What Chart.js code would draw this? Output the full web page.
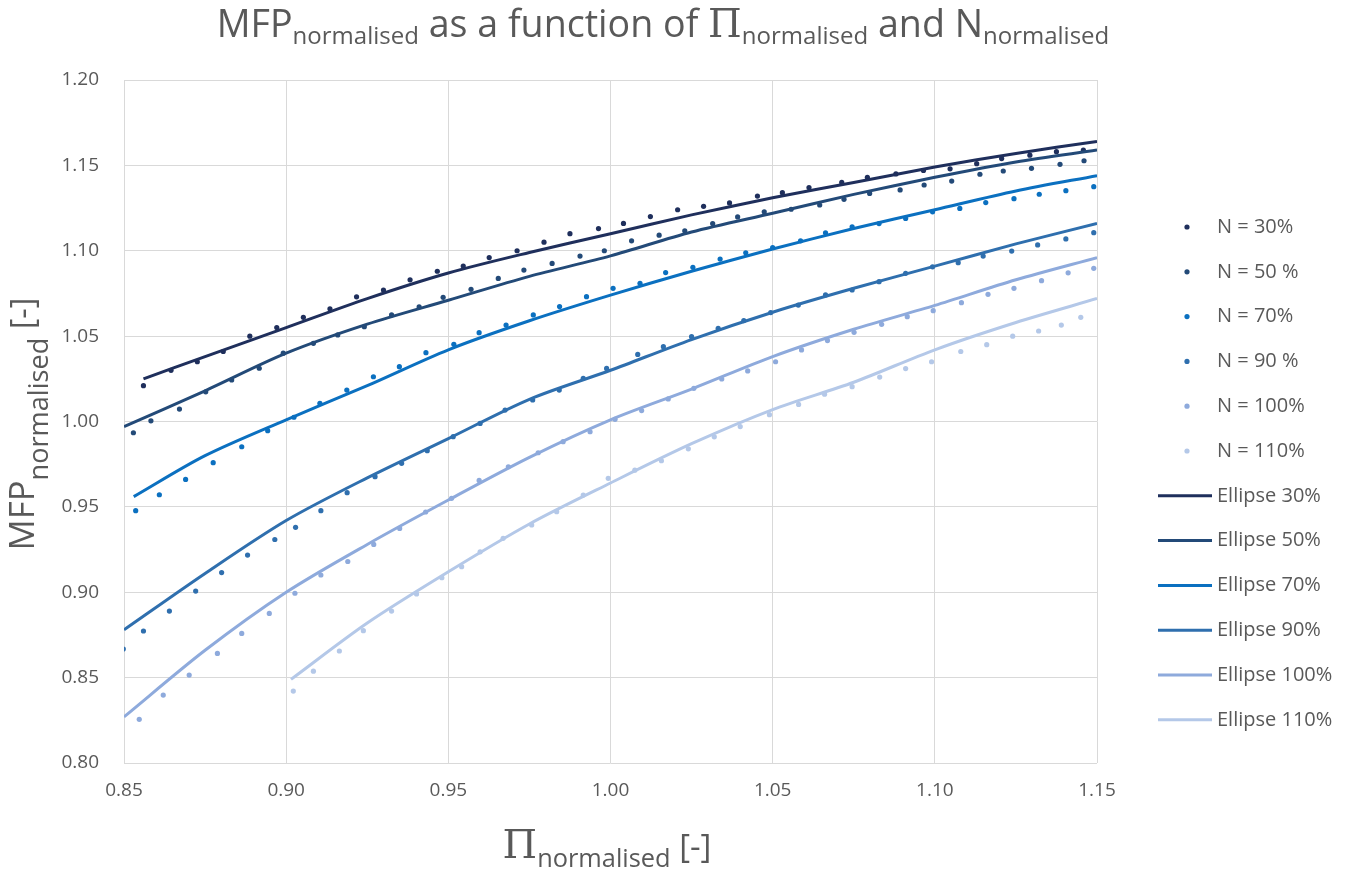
<!DOCTYPE html>
<html>
<head>
<meta charset="utf-8">
<script src="https://cdn.jsdelivr.net/npm/chart.js@4.4.1/dist/chart.umd.min.js"></script>
<style>
  html, body { margin: 0; padding: 0; background: #fff; }
  #wrap { width: 1371px; height: 869px; }
</style>
</head>
<body>
<div id="wrap"><canvas id="mfpChart" width="1371" height="869"></canvas></div>
<script>
// axis ticks
const xTicks = [0.85, 0.90, 0.95, 1.00, 1.05, 1.10, 1.15];
const yTicks = [0.80, 0.85, 0.90, 0.95, 1.00, 1.05, 1.10, 1.15, 1.20];

// measured points (dots)
const n30X = [0.856, 0.8645, 0.8726, 0.8806, 0.8888, 0.8971, 0.9053, 0.9135, 0.9217, 0.930, 0.9382, 0.9466, 0.9546, 0.9626, 0.9712, 0.9795, 0.9875, 0.9963, 1.004, 1.0123, 1.0207, 1.0287, 1.0367, 1.0453, 1.053, 1.0612, 1.0713, 1.0792, 1.088, 1.0965, 1.1047, 1.1129, 1.1206, 1.1293, 1.1375, 1.1458];
const n30Y = [1.021, 1.030, 1.035, 1.041, 1.050, 1.055, 1.061, 1.066, 1.073, 1.077, 1.083, 1.088, 1.091, 1.096, 1.100, 1.105, 1.110, 1.113, 1.116, 1.120, 1.124, 1.126, 1.128, 1.132, 1.134, 1.137, 1.140, 1.143, 1.145, 1.147, 1.148, 1.151, 1.154, 1.156, 1.158, 1.159];

const n50X = [0.8529, 0.8583, 0.8671, 0.8752, 0.8832, 0.8917, 0.8991, 0.9084, 0.9159, 0.9241, 0.9325, 0.941, 0.9484, 0.957, 0.9654, 0.9733, 0.982, 0.9906, 0.9981, 1.0065, 1.015, 1.0229, 1.0315, 1.0392, 1.0474, 1.0557, 1.0645, 1.072, 1.0799, 1.0893, 1.0967, 1.1052, 1.1139, 1.1211, 1.1298, 1.1386, 1.146];
const n50Y = [0.9934, 1.0004, 1.0073, 1.0174, 1.0243, 1.0312, 1.040, 1.0458, 1.0507, 1.0555, 1.0624, 1.0672, 1.0727, 1.0774, 1.0838, 1.0887, 1.0926, 1.0969, 1.100, 1.1058, 1.1091, 1.1117, 1.1159, 1.1198, 1.1228, 1.1243, 1.1268, 1.1301, 1.1336, 1.1356, 1.1385, 1.1408, 1.1448, 1.1467, 1.1483, 1.1506, 1.1527];

const n70X = [0.8536, 0.8609, 0.869, 0.8775, 0.8863, 0.8943, 0.9024, 0.9104, 0.9187, 0.9269, 0.9349, 0.9431, 0.9517, 0.9595, 0.9678, 0.9762, 0.9843, 0.9926, 1.0008, 1.0091, 1.017, 1.0254, 1.0338, 1.0417, 1.05, 1.0586, 1.0663, 1.0745, 1.0828, 1.091, 1.0993, 1.1077, 1.1157, 1.1244, 1.1322, 1.1404, 1.149];
const n70Y = [0.9478, 0.9571, 0.9661, 0.9759, 0.9852, 0.9946, 1.0025, 1.0107, 1.0184, 1.0262, 1.0321, 1.0403, 1.0452, 1.052, 1.0565, 1.0624, 1.0673, 1.0731, 1.078, 1.0809, 1.0872, 1.0903, 1.0951, 1.0988, 1.1019, 1.1058, 1.1105, 1.114, 1.1159, 1.1189, 1.1228, 1.1248, 1.1282, 1.1305, 1.1331, 1.1352, 1.1375];

const n90X = [0.8498, 0.856, 0.864, 0.8721, 0.8801, 0.8881, 0.8965, 0.9029, 0.9107, 0.9188, 0.9274, 0.9356, 0.9435, 0.9515, 0.9598, 0.9675, 0.976, 0.9842, 0.9916, 0.9988, 1.0084, 1.0163, 1.025, 1.0332, 1.0411, 1.0494, 1.0579, 1.0663, 1.0745, 1.0828, 1.091, 1.0993, 1.1072, 1.1149, 1.1237, 1.1317, 1.1404, 1.149];
const n90Y = [0.8667, 0.8773, 0.889, 0.9007, 0.9115, 0.9218, 0.9309, 0.938, 0.9478, 0.9583, 0.9677, 0.9755, 0.9829, 0.9911, 0.9989, 1.0067, 1.0126, 1.0184, 1.0253, 1.0311, 1.0393, 1.0438, 1.0497, 1.0546, 1.0591, 1.0638, 1.0682, 1.0741, 1.077, 1.0819, 1.0868, 1.0906, 1.093, 1.0969, 1.0998, 1.1034, 1.1069, 1.1106];

const n100X = [0.8547, 0.8621, 0.8701, 0.8788, 0.8863, 0.8948, 0.9027, 0.9107, 0.919, 0.927, 0.935, 0.943, 0.951, 0.9595, 0.9685, 0.9777, 0.9854, 0.9937, 1.0014, 1.0096, 1.0178, 1.0257, 1.0343, 1.0423, 1.0509, 1.0589, 1.0669, 1.0751, 1.0836, 1.0915, 1.0995, 1.1082, 1.1164, 1.1244, 1.1329, 1.1411, 1.149];
const n100Y = [0.8256, 0.8398, 0.8515, 0.8642, 0.8759, 0.8876, 0.8994, 0.9101, 0.918, 0.928, 0.9374, 0.947, 0.955, 0.9655, 0.9735, 0.9817, 0.9882, 0.994, 1.0013, 1.0064, 1.0132, 1.0194, 1.0249, 1.0296, 1.035, 1.0419, 1.0474, 1.0522, 1.0569, 1.0614, 1.0649, 1.0696, 1.0745, 1.078, 1.0825, 1.0871, 1.0897];

const n110X = [0.9022, 0.9084, 0.9164, 0.9238, 0.9325, 0.9402, 0.948, 0.9541, 0.9598, 0.9669, 0.9757, 0.9834, 0.9916, 0.9993, 1.0075, 1.0157, 1.024, 1.032, 1.040, 1.049, 1.058, 1.066, 1.0745, 1.083, 1.091, 1.099, 1.108, 1.116, 1.124, 1.132, 1.139, 1.145];
const n110Y = [0.8421, 0.8538, 0.8656, 0.8775, 0.889, 0.899, 0.9085, 0.915, 0.9237, 0.9316, 0.9394, 0.9472, 0.9569, 0.9667, 0.9715, 0.977, 0.984, 0.991, 0.997, 1.004, 1.010, 1.016, 1.0204, 1.026, 1.031, 1.035, 1.041, 1.045, 1.050, 1.053, 1.0565, 1.061];

// ellipse fits (lines)
const e30X = [0.856, 0.875, 0.90, 0.925, 0.95, 0.975, 1.00, 1.025, 1.05, 1.075, 1.10, 1.125, 1.15];
const e30Y = [1.025, 1.038, 1.055, 1.072, 1.087, 1.099, 1.110, 1.121, 1.131, 1.140, 1.149, 1.157, 1.164];
const e50X = [0.85, 0.875, 0.90, 0.925, 0.95, 0.975, 1.00, 1.025, 1.05, 1.075, 1.10, 1.125, 1.15];
const e50Y = [0.997, 1.018, 1.040, 1.057, 1.071, 1.085, 1.097, 1.111, 1.122, 1.133, 1.143, 1.152, 1.159];
const e70X = [0.853, 0.875, 0.90, 0.925, 0.95, 0.975, 1.00, 1.025, 1.05, 1.075, 1.10, 1.125, 1.15];
const e70Y = [0.956, 0.980, 1.001, 1.021, 1.042, 1.059, 1.074, 1.088, 1.101, 1.113, 1.124, 1.135, 1.144];
const e90X = [0.85, 0.875, 0.90, 0.925, 0.95, 0.975, 1.00, 1.025, 1.05, 1.075, 1.10, 1.125, 1.15];
const e90Y = [0.878, 0.911, 0.942, 0.967, 0.990, 1.013, 1.030, 1.048, 1.064, 1.078, 1.091, 1.104, 1.116];
const e100X = [0.85, 0.875, 0.90, 0.925, 0.95, 0.975, 1.00, 1.025, 1.05, 1.075, 1.10, 1.125, 1.15];
const e100Y = [0.827, 0.866, 0.900, 0.928, 0.954, 0.979, 1.001, 1.019, 1.038, 1.054, 1.068, 1.083, 1.096];
const e110X = [0.9015, 0.925, 0.95, 0.975, 1.00, 1.025, 1.05, 1.075, 1.10, 1.125, 1.15];
const e110Y = [0.849, 0.882, 0.912, 0.940, 0.964, 0.987, 1.007, 1.023, 1.042, 1.058, 1.072];

const dotLabels = ['N = 30%', 'N = 50 %', 'N = 70%', 'N = 90 %', 'N = 100%', 'N = 110%'];
const lineLabels = ['Ellipse 30%', 'Ellipse 50%', 'Ellipse 70%', 'Ellipse 90%', 'Ellipse 100%', 'Ellipse 110%'];
const colours = ['#1f2f5c', '#234a78', '#0b70c0', '#2f6fae', '#8eaadc', '#b4c8e8'];

const textColor = '#595959';
const pts = (xs, ys) => xs.map((x, i) => ({ x: x, y: ys[i] }));

const dotData = [pts(n30X, n30Y), pts(n50X, n50Y), pts(n70X, n70Y), pts(n90X, n90Y), pts(n100X, n100Y), pts(n110X, n110Y)];
const lineData = [pts(e30X, e30Y), pts(e50X, e50Y), pts(e70X, e70Y), pts(e90X, e90Y), pts(e100X, e100Y), pts(e110X, e110Y)];

const datasets = [];
lineData.forEach((d, i) => datasets.push({
    label: lineLabels[i], data: d,
    showLine: true, borderColor: colours[i], backgroundColor: colours[i],
    borderWidth: 3, pointRadius: 0, tension: 0.3, order: 0
}));
dotData.forEach((d, i) => datasets.push({
    label: dotLabels[i], data: d,
    showLine: false, borderColor: colours[i], backgroundColor: colours[i],
    pointRadius: 2.6, pointBorderWidth: 0, order: 1
}));

// draws text pieces (with sub-scripts) centred on x; fonts scaled so the run is `width` wide
function drawParts(ctx, parts, x, y, width) {
    const widthAt = k => {
        let w = 0;
        parts.forEach(p => { ctx.font = (p.size * k) + 'px ' + p.font; w += ctx.measureText(p.t).width; });
        return w;
    };
    const k = width ? width / widthAt(1) : 1;
    let cx = x - widthAt(k) / 2;
    parts.forEach(p => {
        ctx.font = (p.size * k) + 'px ' + p.font;
        ctx.fillText(p.t, cx, y + (p.dy || 0) * k);
        cx += ctx.measureText(p.t).width;
    });
}

const sans = '"Open Sans", "Liberation Sans", sans-serif';
const serif = '"DejaVu Serif", "Liberation Serif", serif';

const decorPlugin = {
    id: 'decor',
    afterDraw(chart) {
        const ctx = chart.ctx;
        ctx.save();
        ctx.fillStyle = textColor;
        ctx.textAlign = 'left';
        ctx.textBaseline = 'alphabetic';

        // title
        drawParts(ctx, [
            { t: 'MFP', size: 36, font: sans },
            { t: 'normalised', size: 23, font: sans, dy: 7 },
            { t: ' as a function of ', size: 36, font: sans },
            { t: 'Π', size: 37, font: serif },
            { t: 'normalised', size: 23, font: sans, dy: 7 },
            { t: ' and N', size: 36, font: sans },
            { t: 'normalised', size: 23, font: sans, dy: 7 }
        ], 663, 37, 893);

        // y axis title
        ctx.save();
        ctx.translate(34, 424);
        ctx.rotate(-Math.PI / 2);
        drawParts(ctx, [
            { t: 'MFP', size: 32, font: sans },
            { t: 'normalised', size: 25, font: sans, dy: 13 },
            { t: ' [-]', size: 30, font: sans }
        ], 0, 0, 253);
        ctx.restore();

        // x axis title
        drawParts(ctx, [
            { t: 'Π', size: 36, font: serif },
            { t: 'normalised', size: 23, font: sans, dy: 8 },
            { t: ' [-]', size: 30, font: sans }
        ], 607, 858, 209);

        // legend
        const items = dotLabels.map((l, i) => ({ label: l, dot: true, c: colours[i] }))
            .concat(lineLabels.map((l, i) => ({ label: l, dot: false, c: colours[i] })));
        ctx.font = '20px ' + sans;
        ctx.textBaseline = 'middle';
        items.forEach((it, i) => {
            const yy = 227 + i * 44.8;
            if (it.dot) {
                ctx.fillStyle = it.c;
                ctx.beginPath();
                ctx.arc(1187, yy, 2.6, 0, Math.PI * 2);
                ctx.fill();
            } else {
                ctx.strokeStyle = it.c;
                ctx.lineWidth = 3;
                ctx.beginPath();
                ctx.moveTo(1158, yy);
                ctx.lineTo(1212, yy);
                ctx.stroke();
            }
            ctx.fillStyle = textColor;
            ctx.fillText(it.label, 1217, yy);
        });
        ctx.restore();
    }
};

new Chart(document.getElementById('mfpChart').getContext('2d'), {
    type: 'scatter',
    data: { datasets: datasets },
    options: {
        responsive: false,
        animation: false,
        layout: { padding: { left: 0, top: 80, right: 274, bottom: 66 } },
        plugins: {
            legend: { display: false },
            title: { display: false },
            tooltip: { enabled: false }
        },
        scales: {
            x: {
                type: 'linear', min: 0.85, max: 1.15,
                afterBuildTicks: axis => { axis.ticks = xTicks.map(v => ({ value: v })); },
                afterFit: axis => { axis.height = 40; },
                grid: { color: '#d9d9d9', lineWidth: 1, drawTicks: false },
                border: { display: false },
                ticks: {
                    color: textColor, padding: 16,
                    font: { family: sans, size: 19 },
                    callback: v => v.toFixed(2)
                }
            },
            y: {
                type: 'linear', min: 0.80, max: 1.20,
                afterBuildTicks: axis => { axis.ticks = yTicks.map(v => ({ value: v })); },
                afterFit: axis => { axis.width = 124; },
                grid: { color: '#d9d9d9', lineWidth: 1, drawTicks: false },
                border: { display: false },
                ticks: {
                    color: textColor, padding: 25,
                    font: { family: sans, size: 19 },
                    callback: v => v.toFixed(2)
                }
            }
        }
    },
    plugins: [decorPlugin]
});
</script>
</body>
</html>
